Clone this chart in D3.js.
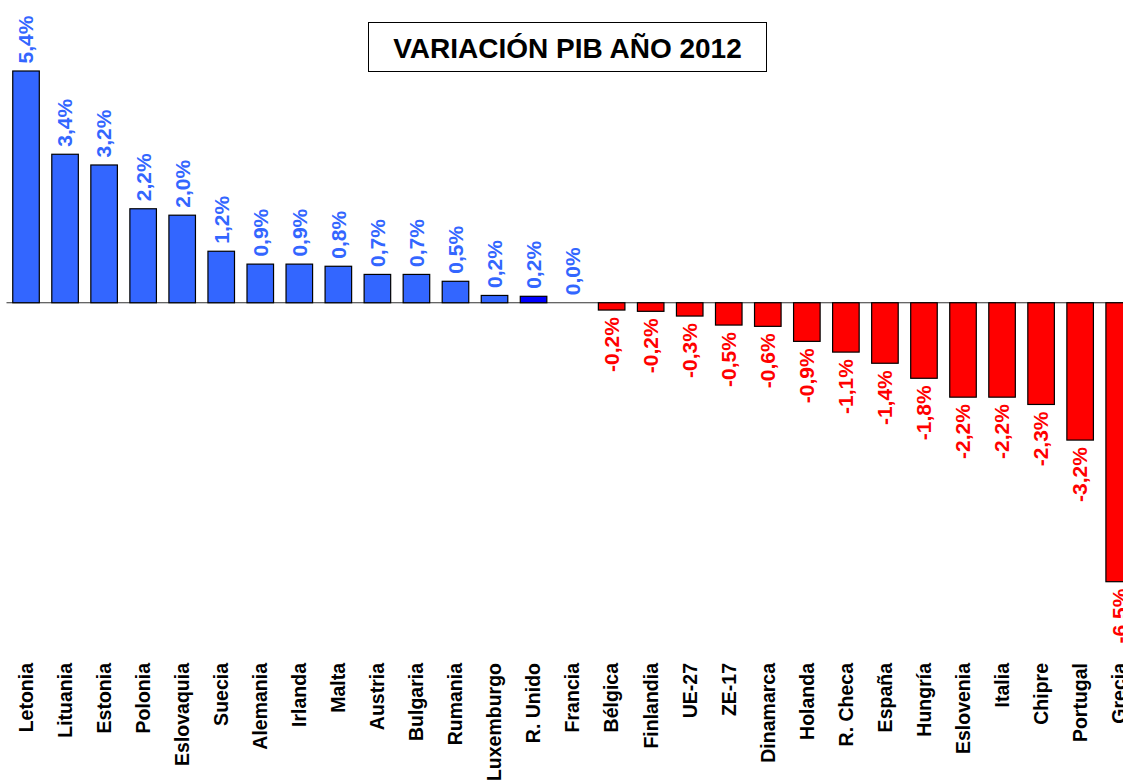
<!doctype html>
<html>
  <head>
    <meta charset="utf-8">
    <script src="https://cdn.jsdelivr.net/npm/d3@7/dist/d3.min.js"></script>
    <style>
      body { margin: 0; background: #fff; }
      text { font-family: "Liberation Sans", Arial, sans-serif; font-weight: bold; }
    </style>
  </head>
  <body>
    <script>
        var countries = ["Letonia", "Lituania", "Estonia", "Polonia", "Eslovaquia", "Suecia", "Alemania",
            "Irlanda", "Malta", "Austria", "Bulgaria", "Rumania", "Luxemburgo", "R. Unido", "Francia",
            "Bélgica", "Finlandia", "UE-27", "ZE-17", "Dinamarca", "Holanda", "R. Checa", "España",
            "Hungría", "Eslovenia", "Italia", "Chipre", "Portugal", "Grecia"];
        // bar heights
        var values = [5.4, 3.46, 3.21, 2.19, 2.04, 1.2, 0.9, 0.9, 0.85, 0.66, 0.66, 0.5, 0.17, 0.15, 0.0,
            -0.17, -0.2, -0.31, -0.52, -0.55, -0.9, -1.15, -1.41, -1.76, -2.2, -2.2, -2.37, -3.2, -6.5];
        // printed labels
        var labels = ["5,4%", "3,4%", "3,2%", "2,2%", "2,0%", "1,2%", "0,9%", "0,9%", "0,8%", "0,7%",
            "0,7%", "0,5%", "0,2%", "0,2%", "0,0%", "-0,2%", "-0,2%", "-0,3%", "-0,5%", "-0,6%", "-0,9%",
            "-1,1%", "-1,4%", "-1,8%", "-2,2%", "-2,2%", "-2,3%", "-3,2%", "-6,5%"];
        var title = "VARIACIÓN PIB AÑO 2012";

        var width = 1123, height = 780;

        var svg = d3.select("body").append("svg")
            .attr("width", width)
            .attr("height", height);

        var x = d3.scaleBand()
            .domain(countries)
            .range([6.5, 1138.7])
            .paddingInner(0.32)
            .paddingOuter(0.16);

        var y = d3.scaleLinear()
            .domain([-6.5, 5.4])
            .range([581.7, 71]);

        var blue = "#3366ff", red = "#ff0000";

        function barColor(d, i) {
            if (countries[i] == "R. Unido") return "#0000ff";
            return d < 0 ? red : blue;
        }

        var data = countries.map(function(c, i) {
            return { name: c, value: values[i], label: labels[i] };
        });

        // zero line
        svg.append("line")
            .attr("x1", 6.5)
            .attr("x2", width)
            .attr("y1", y(0))
            .attr("y2", y(0))
            .attr("stroke", "#333")
            .attr("stroke-width", 1.2);

        svg.selectAll(".bar")
            .data(data.filter(d => d.value != 0))
            .enter().append("rect")
            .attr("class", "bar")
            .attr("x", d => x(d.name))
            .attr("y", d => y(Math.max(0, d.value)))
            .attr("width", x.bandwidth())
            .attr("height", d => Math.abs(y(d.value) - y(0)))
            .attr("fill", d => barColor(d.value, countries.indexOf(d.name)))
            .attr("stroke", "#000")
            .attr("stroke-width", 1.2);

        // value labels, rotated
        svg.selectAll(".val")
            .data(data)
            .enter().append("text")
            .attr("class", "val")
            .attr("transform", function(d) {
                var cx = x(d.name) + x.bandwidth() / 2;
                var yy = d.value < 0 ? y(d.value) + 7 : y(d.value) - 7.5;
                return "translate(" + cx + "," + yy + ") rotate(-90)";
            })
            .attr("dy", "0.35em")
            .attr("text-anchor", d => d.value < 0 ? "end" : "start")
            .attr("fill", d => d.value < 0 ? red : blue)
            .style("font-size", "21px")
            .text(d => d.label);

        // category labels
        svg.selectAll(".cat")
            .data(countries)
            .enter().append("text")
            .attr("class", "cat")
            .attr("transform", d => "translate(" + (x(d) + x.bandwidth() / 2) + ",663) rotate(-90)")
            .attr("dy", "0.35em")
            .attr("text-anchor", "end")
            .attr("fill", "#000")
            .style("font-size", "19.5px")
            .text(d => d);

        // title box
        svg.append("rect")
            .attr("x", 368.5)
            .attr("y", 22.5)
            .attr("width", 398)
            .attr("height", 49)
            .attr("fill", "#fff")
            .attr("stroke", "#000")
            .attr("stroke-width", 1);

        svg.append("text")
            .attr("x", 567.5)
            .attr("y", 58)
            .attr("text-anchor", "middle")
            .attr("fill", "#000")
            .style("font-size", "28px")
            .text(title);
    </script>
  </body>
</html>
